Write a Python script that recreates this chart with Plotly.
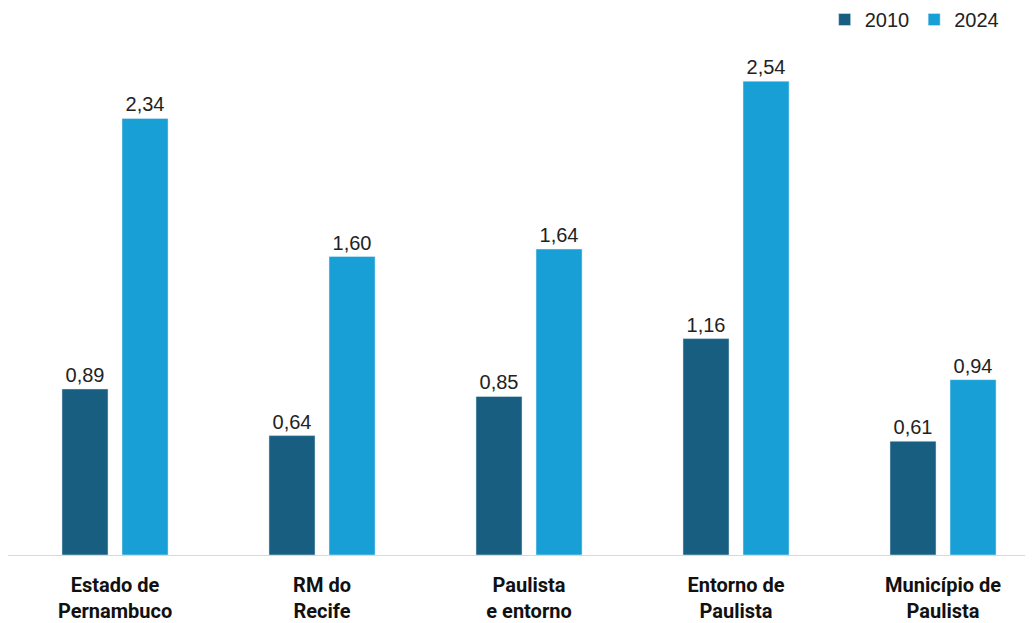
import plotly.graph_objects as go

categories = ["Estado de<br>Pernambuco", "RM do<br>Recife", "Paulista<br>e entorno",
              "Entorno de<br>Paulista", "Município de<br>Paulista"]
values_2010 = [0.89, 0.64, 0.85, 1.16, 0.61]
values_2024 = [2.34, 1.60, 1.64, 2.54, 0.94]

DARK = "#175e80"
LIGHT = "#179fd6"

def fmt(v):
    return f"{v:.2f}".replace(".", ",")

label_font = dict(family="Liberation Sans, Arial", size=20, color="#222222")

fig = go.Figure()
fig.add_trace(go.Bar(
    name="2010", x=categories, y=values_2010, marker_color=DARK,
    text=[fmt(v) for v in values_2010], textposition="outside",
    textfont=label_font, cliponaxis=False,
))
fig.add_trace(go.Bar(
    name="2024", x=categories, y=values_2024, marker_color=LIGHT,
    text=[fmt(v) for v in values_2024], textposition="outside",
    textfont=label_font, cliponaxis=False,
))

fig.update_layout(
    width=1033, height=623,
    margin=dict(l=8, r=8, t=0, b=68),
    paper_bgcolor="white", plot_bgcolor="white",
    barmode="group", bargap=0.42, bargroupgap=0.233,
    showlegend=True,
    legend=dict(orientation="h", x=0.979, xanchor="right", y=1.0, yanchor="top",
                font=dict(family="Liberation Sans, Arial", size=20, color="#222222"),
                traceorder="normal", bgcolor="rgba(0,0,0,0)"),
    font=dict(family="Liberation Sans, Arial"),
)
fig.update_xaxes(
    range=[-0.517, 4.396], showline=True, linecolor="#d9d9d9", linewidth=1,
    showgrid=False, ticks="", ticklabelstandoff=12,
    tickfont=dict(family="Roboto, Noto Sans", size=20, color="#111111", weight="bold"),
)
fig.update_yaxes(range=[0, 2.975], visible=False, showgrid=False, zeroline=False)

fig.write_html("out.html")
